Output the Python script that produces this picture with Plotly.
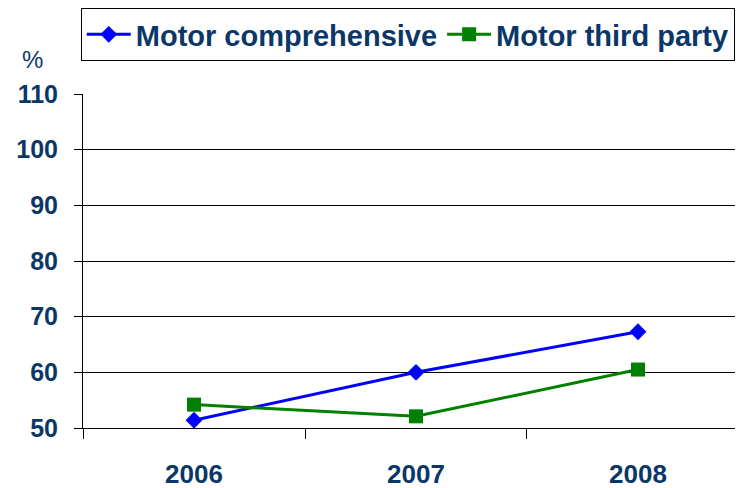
import plotly.graph_objects as go

years = ["2006", "2007", "2008"]
comprehensive = [51.4, 60.0, 67.3]
third_party = [54.2, 52.1, 60.5]
y_ticks = [50, 60, 70, 80, 90, 100, 110]

NAVY = "#0b3768"
FONT = "Liberation Sans, Arial, sans-serif"

fig = go.Figure()

fig.add_trace(go.Scatter(
    x=years, y=comprehensive, name="Motor comprehensive",
    mode="lines+markers",
    line=dict(color="#0000ff", width=3),
    marker=dict(symbol="diamond", size=13, color="#0000ff"),
))
fig.add_trace(go.Scatter(
    x=years, y=third_party, name="Motor third party",
    mode="lines+markers",
    line=dict(color="#008000", width=3),
    marker=dict(symbol="square", size=14, color="#008000"),
))

# the page body adds an 8px offset, so the figure is 8px smaller
fig.update_layout(
    width=735, height=480,
    margin=dict(l=75, r=2, t=86, b=60, autoexpand=False),
    paper_bgcolor="white", plot_bgcolor="white",
    font=dict(family=FONT, color=NAVY),
    legend=dict(
        orientation="h",
        xref="container", x=0.099, xanchor="left",
        yref="container", y=1.0, yanchor="top",
        bgcolor="white", bordercolor="black", borderwidth=1,
        font=dict(size=29, color=NAVY, weight="bold"),
        itemwidth=44,
    ),
    annotations=[dict(
        text="%", xref="paper", yref="paper",
        x=-0.076, y=1.102, xanchor="center", yanchor="middle",
        showarrow=False,
        font=dict(size=24, color=NAVY),
    )],
)

fig.update_xaxes(
    type="category", range=[-0.5, 2.464], automargin=False,
    tickson="boundaries", ticks="outside", ticklen=10, tickcolor="black",
    showline=True, linecolor="black", linewidth=1,
    showgrid=False, ticklabelstandoff=23,
    tickfont=dict(size=26, color=NAVY, weight="bold"),
)
fig.update_yaxes(
    range=[50, 110], tickvals=y_ticks, automargin=False,
    ticks="outside", ticklen=8, tickcolor="black",
    showline=True, linecolor="black", linewidth=1,
    showgrid=True, gridcolor="black", gridwidth=1, zeroline=False,
    ticklabelstandoff=11,
    tickfont=dict(size=25, color=NAVY, weight="bold"),
)

fig.write_html("out.html")
